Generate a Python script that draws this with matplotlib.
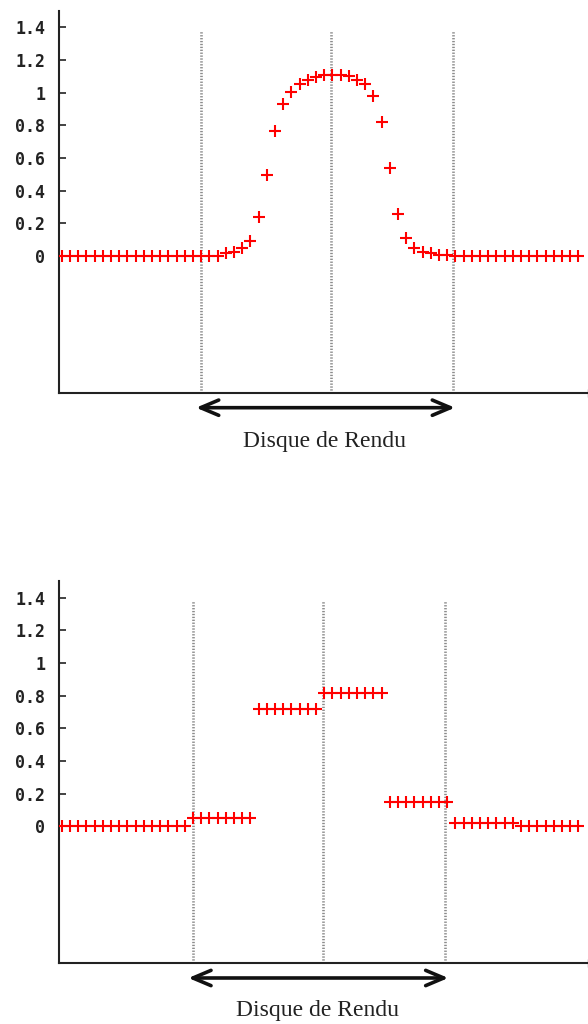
import numpy as np
import matplotlib.pyplot as plt

# sample index along the profile (64 samples)
idx = np.arange(64)

# top: smooth bell-shaped profile
bell = [0, 0, 0, 0, 0, 0, 0, 0, 0, 0, 0, 0, 0, 0, 0, 0,
        0, 0, 0.002, 0.002, 0.017, 0.023, 0.05, 0.094, 0.237, 0.495,
        0.765, 0.93, 1.003, 1.05, 1.076, 1.097, 1.109, 1.11, 1.109, 1.10,
        1.076, 1.05, 0.979, 0.821, 0.536, 0.257, 0.112, 0.05, 0.026, 0.017,
        0.006, 0.006, 0, 0, 0, 0, 0, 0, 0, 0, 0, 0, 0, 0, 0, 0, 0, 0]

# bottom: piecewise constant profile (averaged per block)
step_vals = [0, 0.047, 0.715, 0.818, 0.147, 0.021, 0]
step_len = [16, 8, 8, 8, 8, 8, 8]
steps = []
for v, n in zip(step_vals, step_len):
    steps += [v] * n

vlines_top = [17.0, 32.85, 47.7]
vlines_bot = [16.0, 31.85, 46.75]

yticks = [0, 0.2, 0.4, 0.6, 0.8, 1, 1.2, 1.4]
ylabels = ['0', '0.2', '0.4', '0.6', '0.8', '1', '1.2', '1.4']
label = 'Disque de Rendu'

fig = plt.figure(figsize=(5.88, 10.24), dpi=100)
ax1 = fig.add_axes([59/588, 1 - 393/1024, 529/588, 382/1024])
ax2 = fig.add_axes([59/588, 1 - 963.3/1024, 529/588, 382/1024])

XMIN, XMAX = -0.33, 64.18


def setup(ax, y, vl, arrow, txt):
    ax.set_xlim(XMIN, XMAX)
    ax.set_ylim(-0.84, 1.5)
    for s in ['top', 'right']:
        ax.spines[s].set_visible(False)
    for s in ['left', 'bottom']:
        ax.spines[s].set_linewidth(1.5)
        ax.spines[s].set_color('#222222')
    for v in vl:
        ax.plot([v, v], [-0.84, 1.38], color='#8c8c8c', lw=1.9,
                ls=(0, (0.5, 0.6)), zorder=1)
    ax.plot(idx, y, ls='none', marker='+', ms=8.5, mew=1.5,
            color='#ff0000', zorder=3)
    ax.set_yticks(yticks)
    ax.set_yticklabels(ylabels, family='DejaVu Sans Mono',
                       fontweight='bold', fontsize=12, color='#111111')
    ax.tick_params(axis='y', direction='in', length=5, width=1.2,
                   pad=10, colors='#222222')
    ax.set_xticks([XMAX])
    ax.set_xticklabels([''])
    ax.tick_params(axis='x', direction='inout', length=6, width=1,
                   colors='#888888')
    ax.annotate('', xy=(arrow[0], -0.93), xytext=(arrow[1], -0.93),
                xycoords='data', annotation_clip=False,
                arrowprops=dict(arrowstyle='<->,head_length=1.3,head_width=0.55',
                                lw=2.6, color='#111111',
                                shrinkA=0, shrinkB=0))
    ax.text(txt[0], txt[1], label, ha='center', va='center',
            family='Liberation Serif', fontsize=17, color='#222222',
            clip_on=False)


setup(ax1, bell, vlines_top, (16.38, 47.96), (32.0, -1.14))
setup(ax2, steps, vlines_bot, (15.44, 47.15), (31.2, -1.13))

fig.savefig('out.png', dpi=100)
